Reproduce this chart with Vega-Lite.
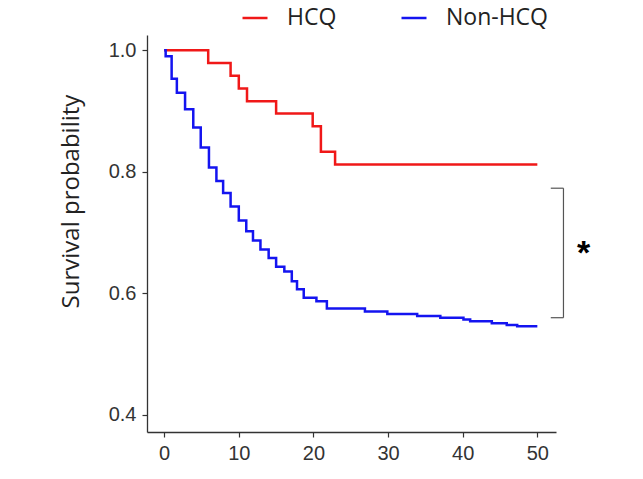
{
  "$schema": "https://vega.github.io/schema/vega-lite/v6.json",
  "width": 409,
  "height": 397,
  "autosize": "none",
  "padding": {"left": 147, "top": 35, "right": 87, "bottom": 47},
  "background": "white",
  "config": {
    "view": {"stroke": null},
    "axis": {
      "grid": false,
      "domainColor": "#333333",
      "domainWidth": 1.3,
      "tickColor": "#333333",
      "tickSize": 5,
      "tickWidth": 1.2,
      "labelFont": "Liberation Sans",
      "labelFontSize": 20,
      "labelColor": "#333333",
      "titleFont": "Open Sans",
      "titleFontSize": 24,
      "titleFontWeight": "normal",
      "titleColor": "#222222"
    }
  },
  "datasets": {
    "curves": [
      {"time": 0, "surv": 1.0, "group": "HCQ"},
      {"time": 5.9, "surv": 0.979, "group": "HCQ"},
      {"time": 8.9, "surv": 0.958, "group": "HCQ"},
      {"time": 10.0, "surv": 0.937, "group": "HCQ"},
      {"time": 11.1, "surv": 0.916, "group": "HCQ"},
      {"time": 15.0, "surv": 0.896, "group": "HCQ"},
      {"time": 19.9, "surv": 0.875, "group": "HCQ"},
      {"time": 21.0, "surv": 0.833, "group": "HCQ"},
      {"time": 22.9, "surv": 0.812, "group": "HCQ"},
      {"time": 50, "surv": 0.812, "group": "HCQ"},
      {"time": 0, "surv": 1.0, "group": "Non-HCQ"},
      {"time": 0.2, "surv": 0.99, "group": "Non-HCQ"},
      {"time": 1.0, "surv": 0.953, "group": "Non-HCQ"},
      {"time": 1.7, "surv": 0.930, "group": "Non-HCQ"},
      {"time": 2.8, "surv": 0.903, "group": "Non-HCQ"},
      {"time": 3.9, "surv": 0.873, "group": "Non-HCQ"},
      {"time": 4.9, "surv": 0.840, "group": "Non-HCQ"},
      {"time": 6.0, "surv": 0.807, "group": "Non-HCQ"},
      {"time": 7.0, "surv": 0.785, "group": "Non-HCQ"},
      {"time": 7.9, "surv": 0.765, "group": "Non-HCQ"},
      {"time": 8.9, "surv": 0.743, "group": "Non-HCQ"},
      {"time": 10.0, "surv": 0.720, "group": "Non-HCQ"},
      {"time": 11.0, "surv": 0.702, "group": "Non-HCQ"},
      {"time": 11.9, "surv": 0.687, "group": "Non-HCQ"},
      {"time": 12.9, "surv": 0.672, "group": "Non-HCQ"},
      {"time": 14.0, "surv": 0.658, "group": "Non-HCQ"},
      {"time": 15.0, "surv": 0.644, "group": "Non-HCQ"},
      {"time": 16.1, "surv": 0.636, "group": "Non-HCQ"},
      {"time": 17.1, "surv": 0.620, "group": "Non-HCQ"},
      {"time": 17.8, "surv": 0.607, "group": "Non-HCQ"},
      {"time": 18.7, "surv": 0.593, "group": "Non-HCQ"},
      {"time": 20.4, "surv": 0.587, "group": "Non-HCQ"},
      {"time": 21.8, "surv": 0.575, "group": "Non-HCQ"},
      {"time": 26.9, "surv": 0.570, "group": "Non-HCQ"},
      {"time": 29.9, "surv": 0.566, "group": "Non-HCQ"},
      {"time": 33.9, "surv": 0.563, "group": "Non-HCQ"},
      {"time": 37.0, "surv": 0.560, "group": "Non-HCQ"},
      {"time": 40.1, "surv": 0.557, "group": "Non-HCQ"},
      {"time": 41.0, "surv": 0.554, "group": "Non-HCQ"},
      {"time": 43.9, "surv": 0.551, "group": "Non-HCQ"},
      {"time": 45.9, "surv": 0.548, "group": "Non-HCQ"},
      {"time": 47.3, "surv": 0.546, "group": "Non-HCQ"},
      {"time": 50, "surv": 0.546, "group": "Non-HCQ"}
    ],
    "bracketV": [{"x": 53.5, "y": 0.773, "y2": 0.560}],
    "bracketH": [
      {"x": 51.8, "x2": 53.5, "y": 0.773},
      {"x": 51.8, "x2": 53.5, "y": 0.560}
    ],
    "star": [{"x": 56.2, "y": 0.675, "label": "*"}]
  },
  "layer": [
    {
      "data": {"name": "curves"},
      "mark": {"type": "line", "interpolate": "step-after", "strokeWidth": 2.5},
      "encoding": {
        "x": {
          "field": "time", "type": "quantitative",
          "scale": {"domain": [-2.3, 52.5], "nice": false, "zero": false},
          "axis": {"values": [0, 10, 20, 30, 40, 50], "title": null, "labelPadding": 6}
        },
        "y": {
          "field": "surv", "type": "quantitative",
          "scale": {"domain": [0.372, 1.025], "nice": false, "zero": false},
          "axis": {"values": [0.4, 0.6, 0.8, 1.0], "format": ".1f", "title": "Survival probability", "labelPadding": 6, "titleX": -64, "titleY": 166}
        },
        "color": {
          "field": "group", "type": "nominal",
          "scale": {"domain": ["HCQ", "Non-HCQ"], "range": ["#F01818", "#1414F0"]},
          "legend": {
            "title": null,
            "orient": "none",
            "direction": "horizontal",
            "legendX": 94,
            "legendY": -31,
            "symbolType": "stroke",
            "symbolSize": 625,
            "symbolStrokeWidth": 2.5,
            "labelFont": "Open Sans",
            "labelFontSize": 23,
            "labelColor": "#222222",
            "labelOffset": 18,
            "columnPadding": 59
          }
        }
      }
    },
    {
      "data": {"name": "bracketV"},
      "mark": {"type": "rule", "color": "#555555", "strokeWidth": 1.2},
      "encoding": {
        "x": {"field": "x", "type": "quantitative"},
        "y": {"field": "y", "type": "quantitative"},
        "y2": {"field": "y2"}
      }
    },
    {
      "data": {"name": "bracketH"},
      "mark": {"type": "rule", "color": "#555555", "strokeWidth": 1.2},
      "encoding": {
        "x": {"field": "x", "type": "quantitative"},
        "x2": {"field": "x2"},
        "y": {"field": "y", "type": "quantitative"}
      }
    },
    {
      "data": {"name": "star"},
      "mark": {"type": "text", "font": "Liberation Sans", "fontSize": 34, "fontWeight": "bold", "baseline": "middle", "align": "center", "dy": 6, "color": "#000000"},
      "encoding": {
        "x": {"field": "x", "type": "quantitative"},
        "y": {"field": "y", "type": "quantitative"},
        "text": {"field": "label"}
      }
    }
  ]
}
